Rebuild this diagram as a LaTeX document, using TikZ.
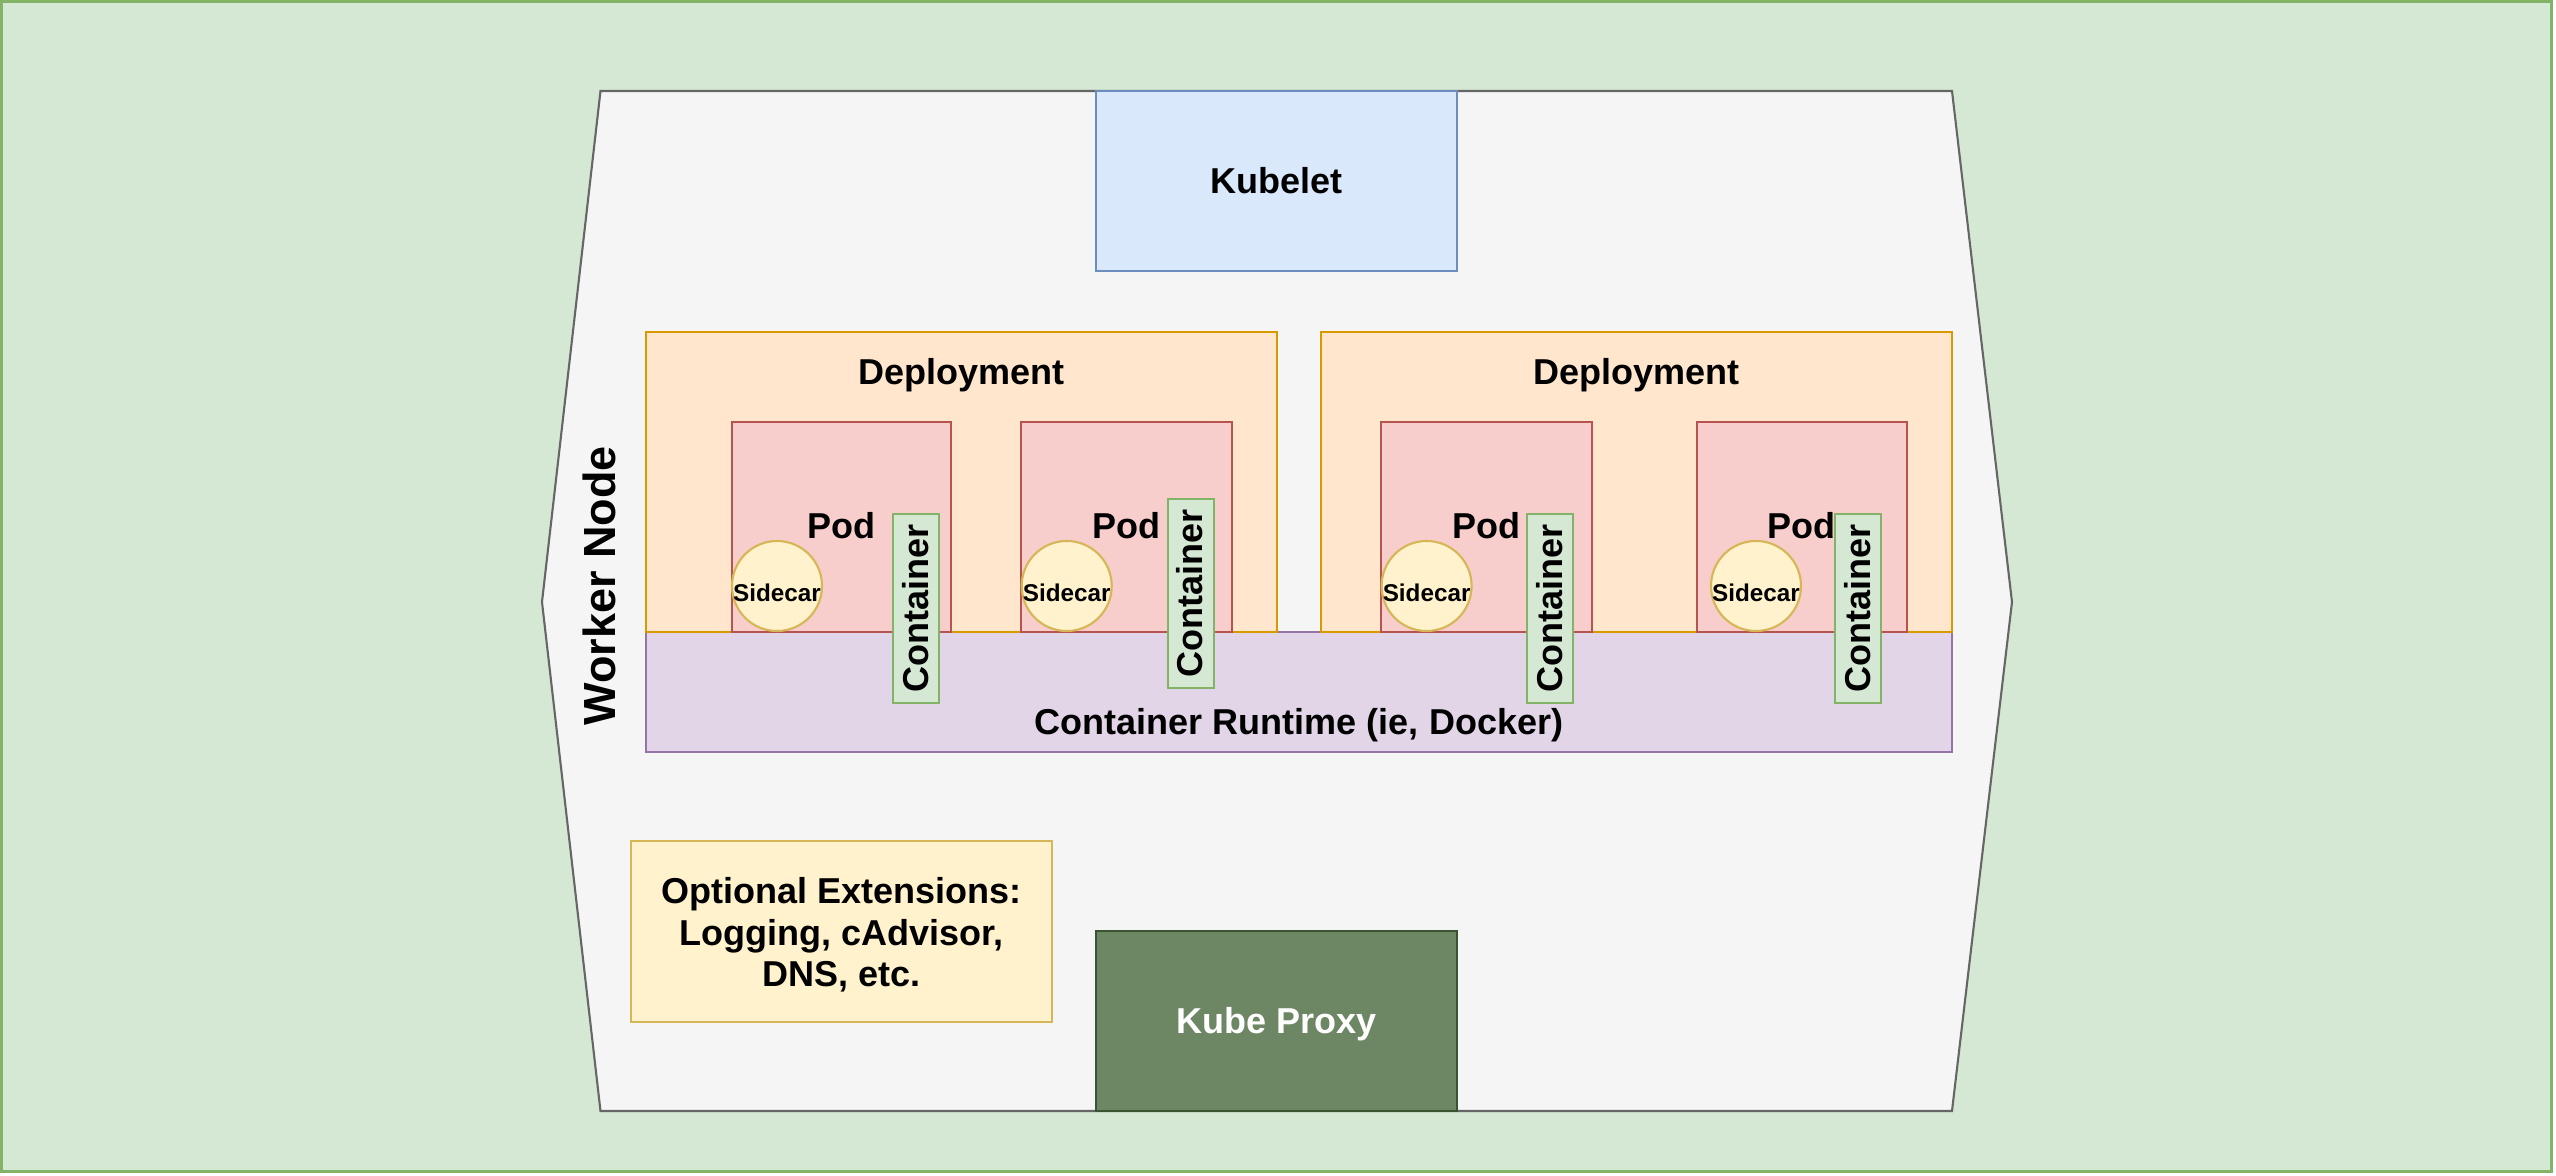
\documentclass[tikz,border=0pt]{standalone}
\usepackage{fontspec}
\setmainfont{Liberation Sans}
\definecolor{outerfill}{HTML}{D5E8D4}
\definecolor{outerdraw}{HTML}{82B366}
\definecolor{nodefill}{HTML}{F5F5F5}
\definecolor{nodedraw}{HTML}{666666}
\definecolor{kubeletfill}{HTML}{DAE8FC}
\definecolor{kubeletdraw}{HTML}{6C8EBF}
\definecolor{depfill}{HTML}{FFE6CC}
\definecolor{depdraw}{HTML}{D79B00}
\definecolor{podfill}{HTML}{F8CECC}
\definecolor{poddraw}{HTML}{B85450}
\definecolor{yelfill}{HTML}{FFF2CC}
\definecolor{yeldraw}{HTML}{D6B656}
\definecolor{rtfill}{HTML}{E1D5E7}
\definecolor{rtdraw}{HTML}{9673A6}
\definecolor{proxyfill}{HTML}{6D8764}
\definecolor{proxydraw}{HTML}{3A5431}
\tikzset{
  shp/.style={draw, line width=0.6pt, inner sep=0pt, outer sep=0pt, rectangle},
  txt/.style={font=\bfseries\fontsize{10.24}{11.8}\selectfont, inner sep=0pt, outer sep=0pt, align=center},
  oneline/.style={text height=0.943em, text depth=0.25em},
  kubeletbox/.style={shp, fill=kubeletfill, draw=kubeletdraw, minimum width=3.61cm, minimum height=1.80cm, txt, oneline},
  proxybox/.style={shp, fill=proxyfill, draw=proxydraw, minimum width=3.61cm, minimum height=1.80cm, txt, oneline, text=white},
  optbox/.style={shp, fill=yelfill, draw=yeldraw, minimum width=4.21cm, minimum height=1.81cm},
  rtbox/.style={shp, fill=rtfill, draw=rtdraw, minimum width=13.06cm, minimum height=1.20cm},
  depbox/.style={shp, fill=depfill, draw=depdraw, minimum width=6.31cm, minimum height=3.00cm},
  podbox/.style={shp, fill=podfill, draw=poddraw, minimum height=2.10cm, txt, oneline},
  sidecarbox/.style={shp, circle, fill=yelfill, draw=yeldraw, minimum size=0.90cm},
  sidetext/.style={inner sep=0pt, outer sep=0pt, anchor=base, font=\bfseries\fontsize{6.9}{8}\selectfont},
  contbox/.style={shp, fill=outerfill, draw=outerdraw, minimum width=0.46cm, minimum height=1.89cm},
  conttext/.style={txt, oneline, rotate=90},
}
\begin{document}
\begin{tikzpicture}[x=0.01cm, y=-0.01cm]
\useasboundingbox (0,0) rectangle (2556,1176);
% background
\draw[fill=outerfill, draw=outerdraw, line width=0.8pt] (1.5,1.5) rectangle (2551.3,1171.3);
% worker node shape
\draw[fill=nodefill, draw=nodedraw, line width=0.6pt]
  (600.5,91) -- (1952,91) -- (2012,602) -- (1952,1111) -- (600.5,1111) -- (542,602) -- cycle;
\node[txt, oneline, rotate=90, font=\bfseries\fontsize{12.8}{14}\selectfont] (worker) at (603,586) {Worker Node};
% kubelet, proxy, extensions
\node[kubeletbox] (kubelet) at (1276.5,181) {Kubelet};
\node[proxybox] (proxy) at (1276.5,1021) {Kube Proxy};
\node[optbox] (opt) at (841.5,931.5) {};
\node[txt] (optlabel) at (841.5,935) {Optional Extensions:\\Logging, cAdvisor,\\DNS, etc.};
% runtime
\node[rtbox] (runtime) at (1299,691.7) {};
\node[txt, oneline] (rtlabel) at (1299,722) {Container Runtime (ie, Docker)};
% deployments
\node[depbox] (dep1) at (961.5,481.7) {};
\node[depbox] (dep2) at (1636.5,481.7) {};
\node[txt, anchor=base] (dep1label) at (961.5,385) {Deployment};
\node[txt, anchor=base] (dep2label) at (1636.5,385) {Deployment};
% pods
\node[podbox, minimum width=2.18cm] (pod1) at (841.5,526.7) {Pod};
\node[podbox, minimum width=2.11cm] (pod2) at (1126.7,526.7) {Pod};
\node[podbox, minimum width=2.11cm] (pod3) at (1486.6,526.7) {Pod};
\node[podbox, minimum width=2.10cm] (pod4) at (1801.7,526.7) {Pod};
% sidecars
\node[sidecarbox] (side1) at (777,586) {};
\node[sidecarbox] (side2) at (1066.7,586) {};
\node[sidecarbox] (side3) at (1426.6,586) {};
\node[sidecarbox] (side4) at (1756,586) {};
\node[sidetext] (side1t) at ([yshift=-4.4pt]side1.center) {Sidecar};
\node[sidetext] (side2t) at ([yshift=-4.4pt]side2.center) {Sidecar};
\node[sidetext] (side3t) at ([yshift=-4.4pt]side3.center) {Sidecar};
\node[sidetext] (side4t) at ([yshift=-4.4pt]side4.center) {Sidecar};
% containers
\node[contbox] (cont1) at (916.4,608.8) {};
\node[contbox] (cont2) at (1190.7,593.8) {};
\node[contbox] (cont3) at (1550.1,608.8) {};
\node[contbox] (cont4) at (1857.9,608.8) {};
\node[conttext] (cont1t) at (cont1) {Container};
\node[conttext] (cont2t) at (cont2) {Container};
\node[conttext] (cont3t) at (cont3) {Container};
\node[conttext] (cont4t) at (cont4) {Container};
\end{tikzpicture}
\end{document}
